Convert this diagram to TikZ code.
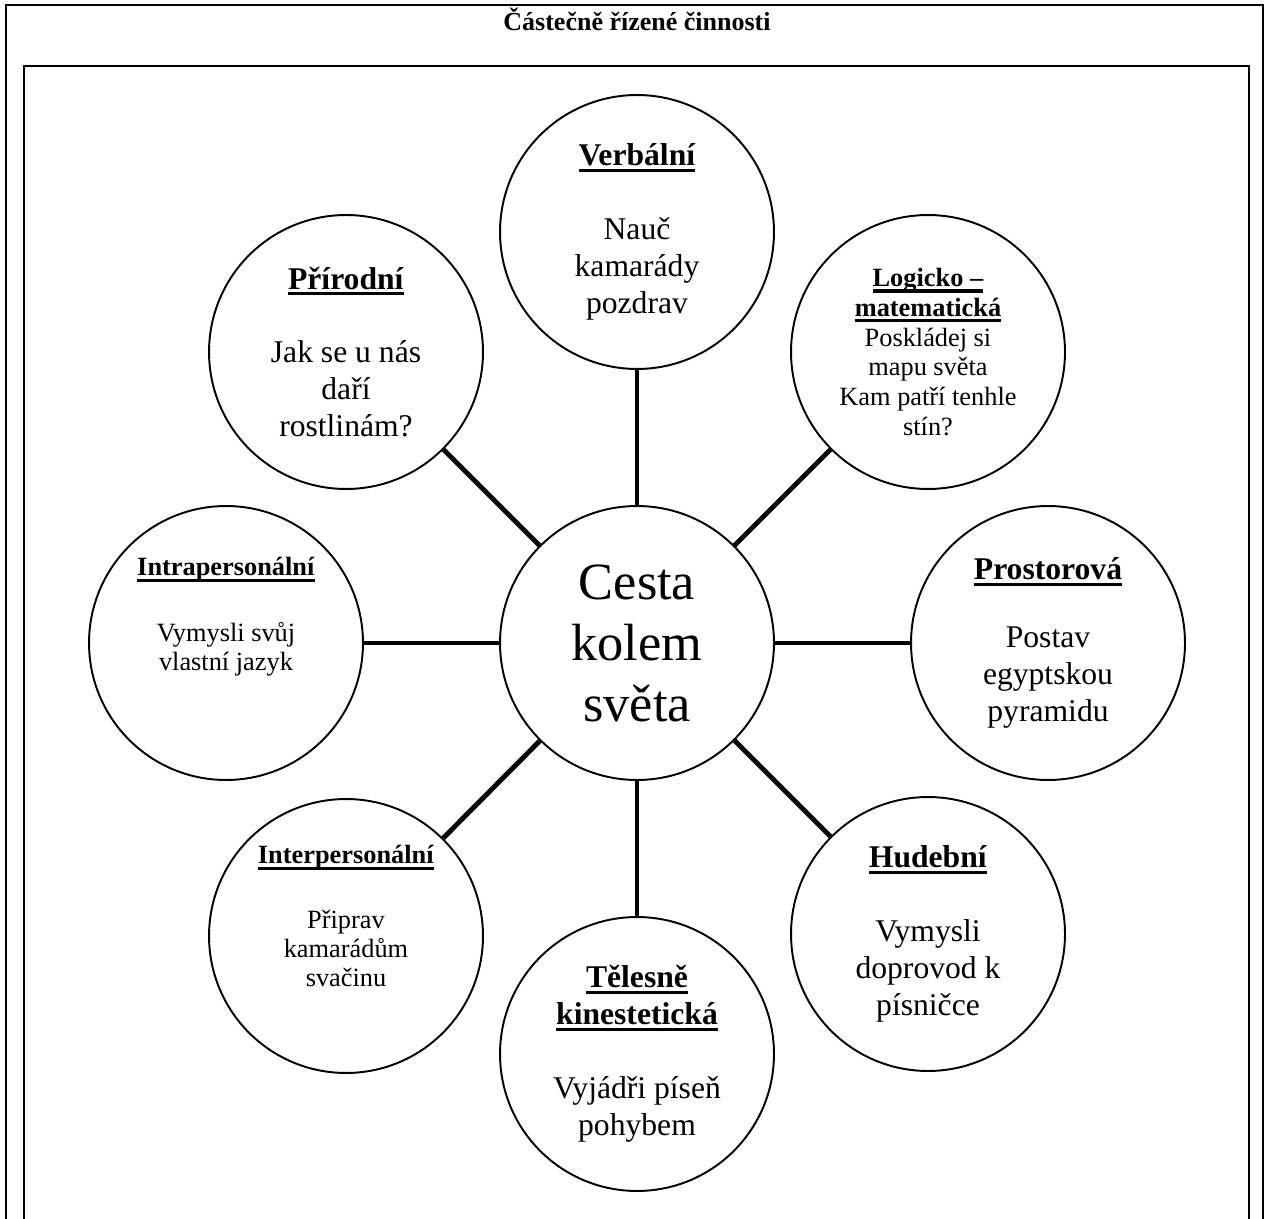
\documentclass[tikz,border=0pt]{standalone}
\usepackage{fontspec}
\setmainfont{Liberation Serif}
\usetikzlibrary{positioning}
\newsavebox{\hdbox}
\newcommand{\hd}[1]{\sbox{\hdbox}{\textbf{#1}}\rlap{\rule[-3.6pt]{\wd\hdbox}{1.8pt}}\usebox{\hdbox}}
\tikzset{bubble/.style={draw,circle,line width=1.1pt,minimum size=5.48cm,inner sep=0pt}}
\tikzset{spoke/.style={line width=2.8pt}}
\tikzset{note/.style={align=center,font=\fontsize{18}{21}\selectfont}}
\tikzset{small note/.style={align=center,font=\fontsize{15}{16.5}\selectfont}}

\begin{document}
\begin{tikzpicture}[x=0.02cm,y=-0.02cm]
  \useasboundingbox (0,0) rectangle (1267,1219);
  \clip (0,0) rectangle (1267,1219);
  % frames
  \draw[line width=1.2pt] (6,5) rectangle (1263,1300);
  \draw[line width=1.4pt] (24,66) rectangle (1249,1300);
  \node[anchor=base,font=\fontsize{14.8}{17}\selectfont\bfseries] (title) at (637,31) {Částečně řízené činnosti};
  % circles
  \node[bubble] (mid) at (637,643) {};
  \node[bubble] (verb) at (637,232) {};
  \node[bubble] (prir) at (346,352) {};
  \node[bubble] (logi) at (928,352) {};
  \node[bubble] (intra) at (226,643) {};
  \node[bubble] (prost) at (1048,643) {};
  \node[bubble] (inter) at (346,936) {};
  \node[bubble] (tel) at (637,1054) {};
  \node[bubble] (hud) at (928,934) {};
  \foreach \n in {verb,logi,prost,hud,tel,inter,intra,prir}
    \draw[spoke] (mid) -- (\n);
  % texts
  \node[align=center,font=\fontsize{29.8}{34.7}\selectfont] (mid-t) at (mid) {Cesta\\ kolem\\ světa};
  \node[note] (verb-t) at (verb) {\hd{Verbální}\\[21pt] Nauč\\ kamarády\\ pozdrav};
  \node[note] (prir-t) at (prir) {\hd{Přírodní}\\[21pt] Jak se u nás\\ daří\\ rostlinám?};
  \node[small note,font=\fontsize{15}{17}\selectfont] (logi-t) at (logi) {\hd{Logicko –}\\ \hd{matematická}\\ Poskládej si\\ mapu světa\\ Kam patří tenhle\\ stín?};
  \node[small note] (intra-t) at ([yshift=0.52cm]intra) {\hd{Intrapersonální}\\[21pt] Vymysli svůj\\ vlastní jazyk};
  \node[note] (prost-t) at (prost) {\hd{Prostorová}\\[18pt] Postav\\ egyptskou\\ pyramidu};
  \node[small note] (inter-t) at ([yshift=0.4cm]inter) {\hd{Interpersonální}\\[20pt] Připrav\\ kamarádům\\ svačinu};
  \node[note] (tel-t) at (tel) {\hd{Tělesně}\\ \hd{kinestetická}\\[21pt] Vyjádři píseň\\ pohybem};
  \node[note] (hud-t) at (hud) {\hd{Hudební}\\[21pt] Vymysli\\ doprovod k\\ písničce};
\end{tikzpicture}
\end{document}
